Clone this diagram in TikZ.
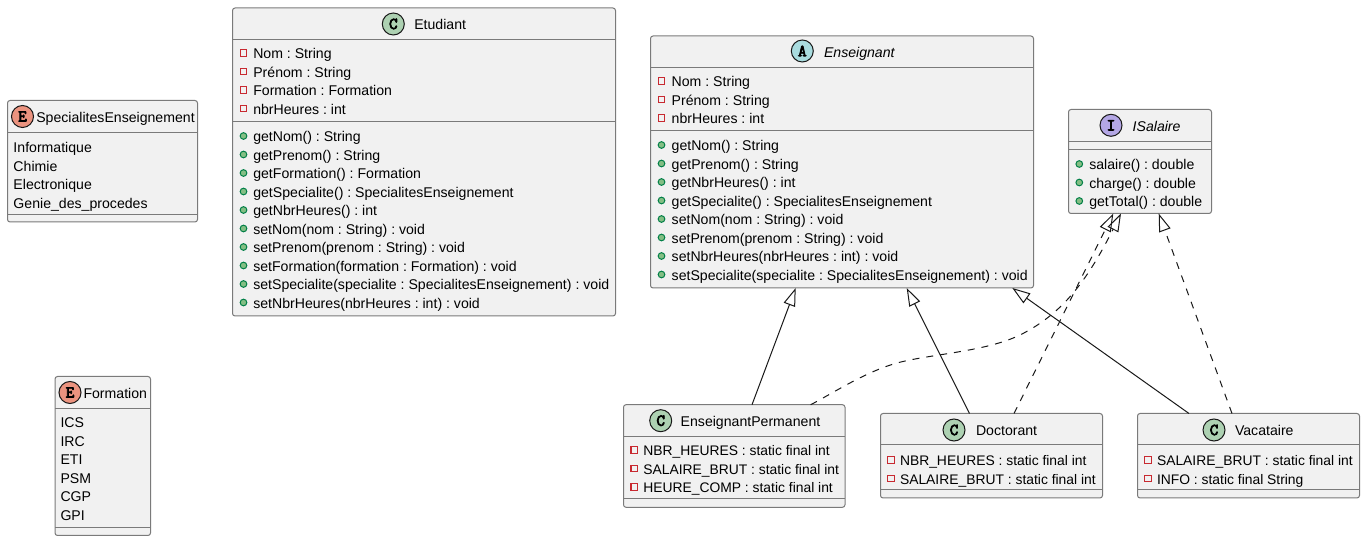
\documentclass[tikz,border=0pt]{standalone}
\usepackage{fontspec}
\setmainfont{Liberation Sans}
\newfontfamily\iconfont[FakeBold=4.5]{Latin Modern Mono}
\usetikzlibrary{arrows.meta}
\definecolor{boxfill}{HTML}{F1F1F1}
\definecolor{boxline}{HTML}{7A7A7A}
\definecolor{ink}{HTML}{181818}
\definecolor{privred}{HTML}{C82930}
\definecolor{pubfill}{HTML}{84BE84}
\definecolor{publine}{HTML}{038048}
\definecolor{iconC}{HTML}{ADD1B2}
\definecolor{iconA}{HTML}{A9DCDF}
\definecolor{iconI}{HTML}{B4A7E5}
\definecolor{iconE}{HTML}{EB937F}
\newcounter{tn}
\frenchspacing
\newcommand{\rowsize}{10.58}
\tikzset{
  umlbox/.style={draw=boxline,fill=boxfill,line width=0.75pt,rounded corners=1.9pt,inner sep=0pt,outer sep=0pt},
  divider/.style={draw=boxline,line width=0.75pt},
  rowtext/.style={anchor=base west,inner sep=0pt,outer sep=0pt,text=black,yshift=-0.75pt,font=\fontsize{\rowsize}{12}\selectfont},
  titletext/.style={rowtext},
  icon/.style={circle,draw=ink,line width=0.75pt,minimum size=16.5pt,inner sep=0pt,font=\iconfont\fontsize{12.5}{12}\selectfont,text=black},
  privmark/.style={draw=privred,line width=0.9pt,fill=none,minimum size=5pt,inner sep=0pt,rectangle},
  pubmark/.style={draw=publine,line width=0.75pt,fill=pubfill,minimum size=5pt,inner sep=0pt,circle},
  extends/.style={draw=ink,line width=0.75pt,-{Triangle[open,length=13.5pt,width=9pt]}},
  implements/.style={extends,dash pattern=on 5.25pt off 5.25pt},
}
% name, x0, y0, x1, y1, divider positions
\newcommand{\umlbox}[6]{%
  \pgfmathsetmacro{\bw}{(#4-#2)*0.75}%
  \pgfmathsetmacro{\bh}{(#5-#3)*0.75}%
  \node[umlbox,minimum width=\bw pt,minimum height=\bh pt] (#1) at ({(#2+#4)/2},{(#3+#5)/2}) {};
  \foreach \dv in {#6} {\draw[divider] (#2,\dv) -- (#4,\dv);}
}
% plain rows: x, first baseline, list
\newcommand{\plainrows}[3]{%
  \foreach \t [count=\i from 0] in {#3} {%
    \stepcounter{tn}%
    \node[rowtext] (t\arabic{tn}) at (#1,{#2+18.5*\i}) {\t};
  }%
}
% marked rows: style, mark x, text x, first baseline, list
\newcommand{\markrows}[5]{%
  \foreach \t [count=\i from 0] in {#5} {%
    \stepcounter{tn}%
    \node[#1] (m\arabic{tn}) at (#2,{#4-5+18.5*\i}) {};
    \node[rowtext] (t\arabic{tn}) at (#3,{#4+18.5*\i}) {\t};
  }%
}
% box name, icon colour, letter, icon x, icon y, text x, baseline, title
\newcommand{\boxtitle}[8]{%
  \node[icon,fill=#2] (#1icon) at (#4,#5) {#3};
  \node[titletext] (#1title) at (#6,#7) {#8};
}
\begin{document}
\begin{tikzpicture}[x=0.75pt,y=-0.75pt]
\useasboundingbox (0,0) rectangle (1365,541);

% SpecialitesEnseignement
\umlbox{spec}{7.5}{100.5}{197.5}{222}{132.3,214.3}
\boxtitle{spec}{iconE}{E}{22.5}{116.5}{36.3}{121.7}{SpecialitesEnseignement}
\plainrows{13.5}{151.6}{Informatique,Chimie,Electronique,Genie\_des\_procedes}

% Formation
\umlbox{form}{55}{376.5}{150.5}{535.5}{408.3,527.3}
\boxtitle{form}{iconE}{E}{70}{392.5}{83.5}{398}{Formation}
\plainrows{60.5}{427}{ICS,IRC,ETI,PSM,CGP,GPI}

% Etudiant
\umlbox{etu}{232.5}{8}{615.5}{316}{39.5,121.7}
\boxtitle{etu}{iconC}{C}{393.3}{24}{414.3}{29}{Etudiant}
\markrows{privmark}{243.5}{253.3}{58}{Nom : String,Prénom : String,Formation : Formation,nbrHeures : int}
\markrows{pubmark}{243.5}{253.3}{141}{getNom() : String,getPrenom() : String,getFormation() : Formation,getSpecialite() : SpecialitesEnseignement,getNbrHeures() : int,setNom(nom : String) : void,setPrenom(prenom : String) : void,setFormation(formation : Formation) : void,setSpecialite(specialite : SpecialitesEnseignement) : void,setNbrHeures(nbrHeures : int) : void}

% Enseignant
\umlbox{ens}{650.5}{36}{1033.5}{288}{67.3,130.3}
\boxtitle{ens}{iconA}{A}{802.3}{51}{824}{57}{\itshape Enseignant}
\markrows{privmark}{661.5}{671.7}{86}{Nom : String,Prénom : String,nbrHeures : int}
\markrows{pubmark}{661.5}{671.7}{150}{getNom() : String,getPrenom() : String,getNbrHeures() : int,getSpecialite() : SpecialitesEnseignement,setNom(nom : String) : void,setPrenom(prenom : String) : void,setNbrHeures(nbrHeures : int) : void,setSpecialite(specialite : SpecialitesEnseignement) : void}

% ISalaire
\umlbox{isal}{1068.5}{109.5}{1211.5}{213.5}{141.7,149.3}
\boxtitle{isal}{iconI}{I}{1111}{125.3}{1132.7}{130.7}{\itshape ISalaire}
\markrows{pubmark}{1079.3}{1089.3}{169}{salaire() : double,charge() : double,getTotal() : double}

% EnseignantPermanent
\umlbox{perm}{623.5}{404.7}{845}{507.3}{436.3,499}
\boxtitle{perm}{iconC}{C}{660.7}{420.7}{680.7}{426}{EnseignantPermanent}
\renewcommand{\rowsize}{10.4}
\markrows{privmark}{634.3}{643.3}{455}{NBR\_HEURES : static final int,SALAIRE\_BRUT : static final int,HEURE\_COMP : static final int}

% Doctorant
\umlbox{doc}{880.5}{413.5}{1102.5}{498}{445,490}
\renewcommand{\rowsize}{10.58}
\boxtitle{doc}{iconC}{C}{954}{430}{976}{435}{Doctorant}
\renewcommand{\rowsize}{10.4}
\markrows{privmark}{891}{900}{465}{NBR\_HEURES : static final int,SALAIRE\_BRUT : static final int}

% Vacataire
\umlbox{vac}{1137.5}{413.5}{1359.5}{498}{445,490}
\renewcommand{\rowsize}{10.58}
\boxtitle{vac}{iconC}{C}{1214}{430}{1235}{435}{Vacataire}
\renewcommand{\rowsize}{10.4}
\markrows{privmark}{1148}{1157}{465}{SALAIRE\_BRUT : static final int,INFO : static final String}

% Generalisation
\draw[extends] ([xshift=128.5*0.75pt]perm.north west) -- ([xshift=145.2*0.75pt]ens.south west);
\draw[extends] ([xshift=89*0.75pt]doc.north west) -- ([xshift=256.2*0.75pt]ens.south west);
\draw[extends] ([xshift=51.5*0.75pt]vac.north west) -- ([xshift=361.8*0.75pt]ens.south west);

% Realisation
\draw[implements] ([xshift=133.5*0.75pt]doc.north west) -- ([xshift=44.8*0.75pt]isal.south west);
\draw[implements] ([xshift=94.5*0.75pt]vac.north west) -- ([xshift=90.2*0.75pt]isal.south west);
\coordinate (bendA) at (897,363);
\coordinate (bendB) at (1020,335);
\draw[implements] ([xshift=187.2*0.75pt]perm.north west)
  .. controls (835,392) and (865,372) .. (bendA)
  .. controls (930,354) and (985,352) .. (bendB)
  .. controls (1060,315) and (1085,285) .. ([xshift=52.5*0.75pt]isal.south west);
\end{tikzpicture}
\end{document}
